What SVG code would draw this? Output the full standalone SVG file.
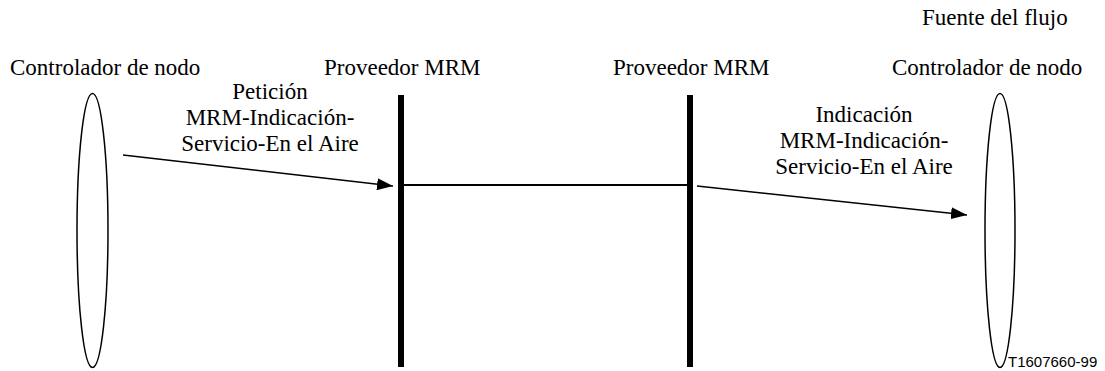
<svg xmlns="http://www.w3.org/2000/svg" width="1105" height="371" viewBox="0 0 1105 371" font-family="'Liberation Serif', 'Times New Roman', serif" font-size="23">
<style>
.ell{fill:none;stroke:#000;stroke-width:1.5}
.bar{fill:#000}
.ln{stroke:#000;stroke-width:1.5;fill:none}
</style>
<defs>
<marker id="ah" viewBox="0 0 16 12" refX="16" refY="6" markerWidth="16" markerHeight="12" markerUnits="userSpaceOnUse" orient="auto">
<path d="M0,0 L16,6 L0,12 Z" fill="#000"/>
</marker>
</defs>
<rect width="1105" height="371" fill="#fff"/>
<g id="node-left">
<ellipse class="ell" cx="92.5" cy="230.5" rx="15.5" ry="137"/>
<text x="10" y="75">Controlador de nodo</text>
</g>
<g id="provider-left">
<rect class="bar" x="398" y="95" width="6" height="272"/>
<text x="324" y="75">Proveedor MRM</text>
</g>
<g id="provider-right">
<rect class="bar" x="687" y="95" width="6" height="272"/>
<text x="613" y="75">Proveedor MRM</text>
</g>
<g id="node-right">
<ellipse class="ell" cx="1000" cy="230.5" rx="15" ry="137"/>
<text x="922" y="25">Fuente del flujo</text>
<text x="892" y="75">Controlador de nodo</text>
</g>
<g id="connectors">
<line class="ln" x1="404" y1="185" x2="687" y2="185" style="stroke-width:2"/>
<line class="ln" x1="123" y1="155" x2="393" y2="186" marker-end="url(#ah)"/>
<line class="ln" x1="697" y1="186" x2="967" y2="215" marker-end="url(#ah)"/>
<g text-anchor="middle">
<text x="270" y="99">Petición</text>
<text x="270" y="125">MRM-Indicación-</text>
<text x="270" y="151">Servicio-En el Aire</text>
<text x="864" y="122">Indicación</text>
<text x="864" y="148">MRM-Indicación-</text>
<text x="864" y="174">Servicio-En el Aire</text>
</g>
</g>
<text x="1008" y="367" font-family="'Liberation Sans', Arial, sans-serif" font-size="15">T1607660-99</text>
</svg>
